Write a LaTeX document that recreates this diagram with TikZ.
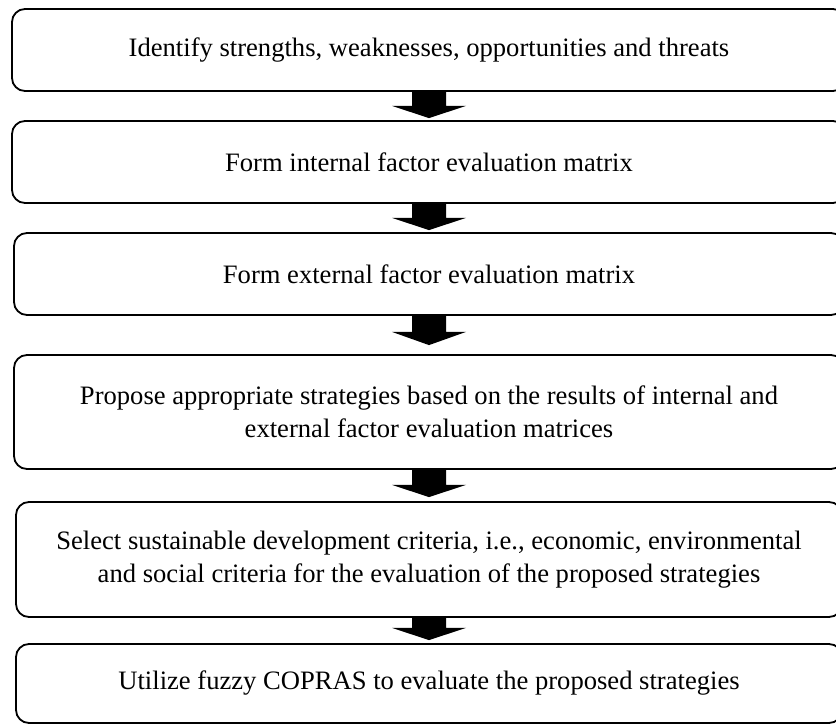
\documentclass[tikz,border=0pt]{standalone}
\usepackage{fontspec}
\setmainfont{Liberation Serif}
\usetikzlibrary{calc}
\tikzset{
  flowbox/.style={draw=black, line width=1.8pt, rounded corners=13pt, fill=white,
    align=center, inner sep=0pt, font=\fontsize{26.6}{33}\selectfont},
  blockfill/.style={fill=black, draw=none}
}
\newcommand\blockarrow[4]{%
  \fill[blockfill] ($(#1.south)+(-17,0)$) -- ++(0,#3) -- ++(-20,0) --
    ($(#2.north)+(0,-#4)$) -- ($(#1.south)+(37,#3)$) -- ++(-20,0) --
    ($(#1.south)+(17,0)$) -- cycle;}
\begin{document}
\begin{tikzpicture}[x=1pt, y=-1pt]
\clip (0,0) rectangle (836,725);
\fill[white] (0,0) rectangle (836,725);
\node[flowbox, minimum width=834pt, minimum height=82pt] (b1) at (429,50)
  {Identify strengths, weaknesses, opportunities and threats};
\node[flowbox, minimum width=834pt, minimum height=82pt] (b2) at (429,162)
  {Form internal factor evaluation matrix};
\node[flowbox, minimum width=830pt, minimum height=82pt] (b3) at (429,274)
  {Form external factor evaluation matrix};
\node[flowbox, minimum width=830pt, minimum height=114pt] (b4) at (429,412)
  {Propose appropriate strategies based on the results of internal and\\
   external factor evaluation matrices};
\node[flowbox, minimum width=826pt, minimum height=115pt] (b5) at (429,559.5)
  {Select sustainable development criteria, i.e., economic, environmental\\
   and social criteria for the evaluation of the proposed strategies};
\node[flowbox, minimum width=826pt, minimum height=79pt] (b6) at (429,683.5)
  {Utilize fuzzy COPRAS to evaluate the proposed strategies};
\blockarrow{b1}{b2}{14}{2}
\blockarrow{b2}{b3}{14}{2}
\blockarrow{b3}{b4}{16}{9}
\blockarrow{b4}{b5}{15}{4}
\blockarrow{b5}{b6}{10}{3}
\end{tikzpicture}
\end{document}
